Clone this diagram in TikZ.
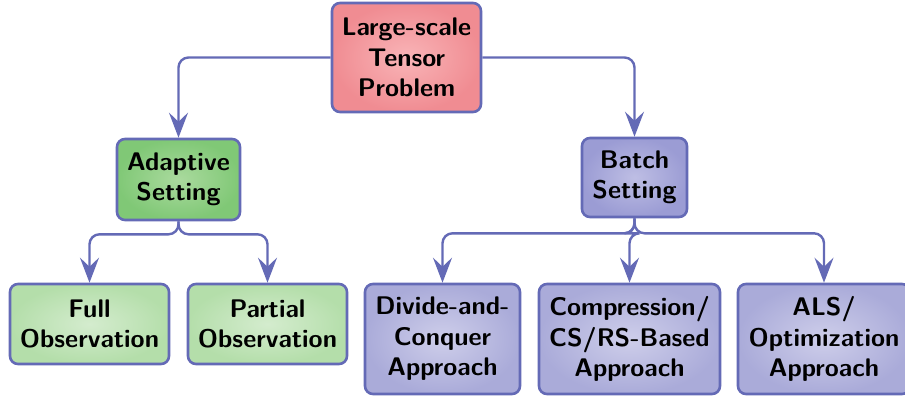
\documentclass[tikz,border=0pt]{standalone}
\usepackage{fontspec}
\usetikzlibrary{arrows.meta}

\definecolor{edgeblue}{RGB}{100,106,182}
\definecolor{redout}{RGB}{240,140,146}
\definecolor{redin}{RGB}{249,180,183}
\definecolor{greenout}{RGB}{128,200,118}
\definecolor{greenin}{RGB}{170,218,158}
\definecolor{lgreenout}{RGB}{180,222,170}
\definecolor{lgreenin}{RGB}{212,236,206}
\definecolor{batchout}{RGB}{155,156,212}
\definecolor{batchin}{RGB}{190,190,228}
\definecolor{purpout}{RGB}{170,171,217}
\definecolor{purpin}{RGB}{206,206,234}

\newcommand{\boxfont}{\fontsize{25.5}{30.5}\selectfont\sffamily\bfseries}

\tikzset{
  box/.style={draw=edgeblue, line width=2.6pt, rounded corners=8pt,
    align=center, font=\boxfont, inner sep=0pt, text=black},
  rootbox/.style={box, inner color=redin, outer color=redout},
  midgreen/.style={box, inner color=greenin, outer color=greenout},
  leafgreen/.style={box, inner color=lgreenin, outer color=lgreenout},
  midpurple/.style={box, inner color=batchin, outer color=batchout},
  leafpurple/.style={box, inner color=purpin, outer color=purpout},
  link/.style={draw=edgeblue, line width=2.4pt, rounded corners=10pt,
    -{Stealth[length=25pt, width=19pt, inset=9pt]}},
}

\begin{document}
\begin{tikzpicture}[x=1pt, y=-1pt]
  \path[use as bounding box, clip] (0,0) rectangle (905,396);

  % tree nodes
  \node[rootbox, minimum width=149pt, minimum height=109pt] (root) at (406.5,57.5)
    {Large-scale\\Tensor\\Problem};
  \node[midgreen, minimum width=123pt, minimum height=81pt] (adaptive) at (178.5,179.5)
    {Adaptive\\Setting};
  \node[midpurple, minimum width=105pt, minimum height=79pt] (batch) at (634.5,177.5)
    {Batch\\Setting};
  \node[leafgreen, minimum width=159pt, minimum height=80pt] (full) at (89.5,324)
    {Full\\Observation};
  \node[leafgreen, minimum width=159pt, minimum height=80pt] (partial) at (267.5,324)
    {Partial\\Observation};
  \node[leafpurple, minimum width=155pt, minimum height=110pt] (divide) at (442.5,339)
    {Divide-and-\\Conquer\\Approach};
  \node[leafpurple, minimum width=181pt, minimum height=110pt] (compress) at (629.5,339)
    {Compression/\\CS/RS-Based\\Approach};
  \node[leafpurple, minimum width=172pt, minimum height=110pt] (als) at (824,339)
    {ALS/\\Optimization\\Approach};

  % connectors
  \draw[link] (root.west) -| (adaptive.north);
  \draw[link] (root.east) -| (batch.north);
  \draw[link] (adaptive.south) -- ++(0,13) -| (full.north);
  \draw[link] (adaptive.south) -- ++(0,13) -| (partial.north);
  \draw[link] (batch.south) -- ++(0,15) -| (divide.north);
  \draw[link] (batch.south) -- ++(0,15) -| (compress.north);
  \draw[link] (batch.south) -- ++(0,15) -| (als.north);
\end{tikzpicture}
\end{document}
